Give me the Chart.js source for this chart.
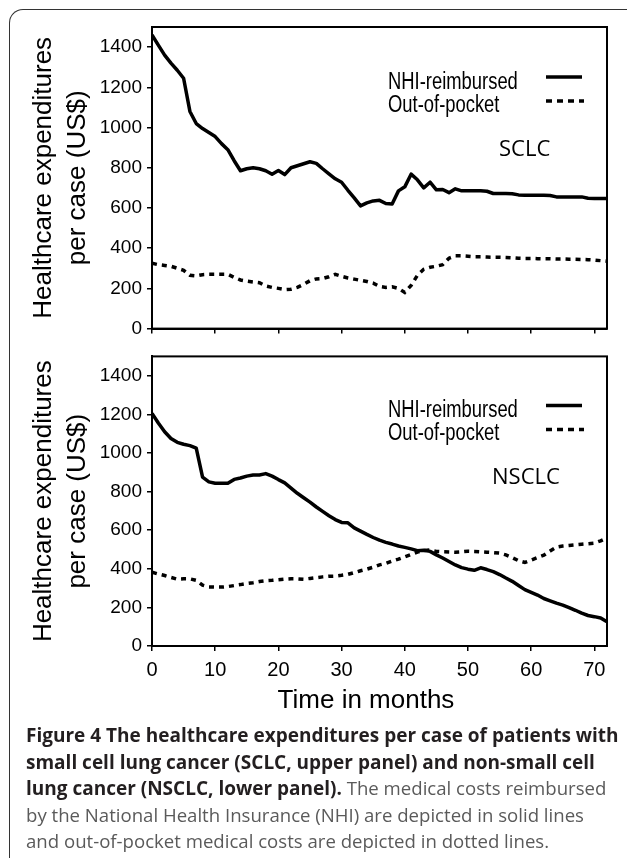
<!DOCTYPE html>
<html><head><meta charset="utf-8">
<script src="https://cdn.jsdelivr.net/npm/chart.js@4.4.1/dist/chart.umd.min.js"></script>
<style>
html,body{margin:0;padding:0;background:#fff;width:627px;height:858px;overflow:hidden;}
#frame{position:absolute;left:9px;top:9px;width:700px;height:900px;border-left:1.5px solid #333;border-top:1.5px solid #333;border-top-left-radius:14px;box-sizing:border-box;}
canvas{position:absolute;left:0;}
#cTop{top:0}
#cBot{top:340px}
#xtitle{position:absolute;left:216px;width:300px;top:686px;text-align:center;font:26px/26px "Liberation Sans",Arial,sans-serif;color:#000;}
#caption{position:absolute;left:26px;top:722px;font-family:"Open Sans",sans-serif;font-size:18.6px;line-height:26.5px;white-space:nowrap;color:#5a5a5a}
#caption b{color:#231f20;font-weight:700;font-size:19px}
</style></head>
<body>
<div id="frame"></div>
<canvas id="cTop" width="627" height="345"></canvas>
<canvas id="cBot" width="627" height="380"></canvas>
<div id="xtitle">Time in months</div>
<div id="caption"><b>Figure 4 The healthcare expenditures per case of patients with<br>small cell lung cancer (SCLC, upper panel) and non-small cell<br>lung cancer (NSCLC, lower panel).</b> The medical costs reimbursed<br>by the National Health Insurance (NHI) are depicted in solid lines<br>and out-of-pocket medical costs are depicted in dotted lines.</div>
<script>
const months = [0,1,2,3,4,5,6,7,8,9,10,11,12,13,14,15,16,17,18,19,20,21,22,23,24,25,26,27,28,29,30,31,32,33,34,35,36,37,38,39,40,41,42,43,44,45,46,47,48,49,50,51,52,53,54,55,56,57,58,59,60,61,62,63,64,65,66,67,68,69,70,71,72];
const seriesNames = ['NHI-reimbursed', 'Out-of-pocket'];
const panelNames = ['SCLC', 'NSCLC'];
const yTitle = ['Healthcare expenditures', 'per case (US$)'];
const xTicks = [0,10,20,30,40,50,60,70];
const yTicks = [0,200,400,600,800,1000,1200,1400];

const sclcNHI = [1460,1410,1360,1320,1285,1245,1080,1020,995,975,
  955,920,890,835,785,795,800,795,785,768,
  786,766,800,810,820,830,822,795,770,745,
  728,688,650,610,625,635,638,622,620,685,
  705,768,740,700,728,690,692,676,695,685,
  685,685,685,683,672,672,672,671,665,663,
  663,663,663,662,655,655,655,655,655,648,
  647,647,647];
const sclcOOP = [325,318,314,310,300,290,265,262,268,270,
  270,270,270,255,242,236,232,228,212,205,
  200,194,196,205,220,238,247,249,258,270,
  260,252,246,240,234,226,210,205,208,200,
  180,215,265,295,305,310,318,350,362,362,
  360,357,357,356,355,355,354,352,350,349,
  349,348,347,347,346,346,345,345,344,343,
  341,338,335];
const nsclcNHI = [1205,1155,1110,1075,1055,1045,1038,1025,875,850,
  843,843,843,863,870,880,886,886,893,880,
  862,845,818,791,768,745,720,697,675,655,
  640,638,612,595,578,562,548,537,528,518,
  511,503,494,496,490,472,456,438,420,406,
  398,392,405,396,385,370,352,335,313,292,
  278,264,246,234,222,212,199,185,170,158,
  152,145,125];
const nsclcOOP = [382,373,365,355,346,348,348,340,315,306,
  305,305,308,313,318,324,328,334,338,340,
  343,346,348,348,346,350,354,358,361,362,
  366,371,380,390,398,408,420,428,440,450,
  462,474,486,495,497,490,488,487,486,488,
  491,490,488,486,484,481,472,458,442,433,
  445,458,470,492,512,518,521,524,527,530,
  533,545,560];

function fontAvailable(name) {
  const c = document.createElement('canvas').getContext('2d');
  const s = 'NHI-reimbursed 0123456789';
  c.font = '40px monospace'; const w1 = c.measureText(s).width;
  c.font = '40px "' + name + '", monospace'; const w2 = c.measureText(s).width;
  return Math.abs(w1 - w2) > 0.5;
}
const narrowOK = fontAvailable('Liberation Sans Narrow');
const NARROW = narrowOK ? '"Liberation Sans Narrow"' : '"Liberation Sans"';
const yTickSize = narrowOK ? 21 : 19;
const xTickSize = narrowOK ? 22 : 20;

const panelLabels = {
  id: 'panelLabels',
  afterDatasetsDraw(chart, args, o) {
    const {ctx, chartArea: a} = chart;
    ctx.save();
    ctx.setLineDash([]);
    ctx.strokeStyle = '#000';
    ctx.lineWidth = 2;
    ctx.strokeRect(a.left, a.top, a.right - a.left, a.bottom - a.top);
    ctx.fillStyle = '#000';
    ctx.font = (narrowOK ? '22px ' : '23px ') + NARROW;
    ctx.textBaseline = 'alphabetic';
    ctx.textAlign = 'left';
    const drawT = (t, x, y) => {
      ctx.save(); ctx.translate(x, y); ctx.scale(narrowOK ? 1 : 0.8, 1); ctx.fillText(t, 0, 0); ctx.restore();
    };
    drawT(seriesNames[0], 388, a.top + o.dy + 62);
    drawT(seriesNames[1], 388, a.top + o.dy + 85);
    ctx.lineWidth = 3.5;
    ctx.beginPath(); ctx.moveTo(546, a.top + o.dy + 50); ctx.lineTo(582, a.top + o.dy + 50); ctx.stroke();
    ctx.setLineDash([6, 5]);
    ctx.beginPath(); ctx.moveTo(546, a.top + o.dy + 74); ctx.lineTo(584, a.top + o.dy + 74); ctx.stroke();
    ctx.setLineDash([]);
    ctx.font = '22px "Open Sans"';
    ctx.fillText(o.name, o.nameX, a.top + o.dy + 129);
    ctx.restore();
  }
};

function makeChart(id, nhi, oop, name, cfg) {
  const tickGrid = {drawOnChartArea: false, drawTicks: true, tickLength: 5, color: '#000', lineWidth: 1.5};
  return new Chart(document.getElementById(id), {
    type: 'line',
    data: {
      datasets: [
        {label: seriesNames[0], data: months.map((m, i) => ({x: m, y: nhi[i]})), borderColor: '#000', borderWidth: 3.5, pointRadius: 0, tension: 0, fill: false, borderJoinStyle: 'round'},
        {label: seriesNames[1], data: months.map((m, i) => ({x: m, y: oop[i]})), borderColor: '#000', borderWidth: 3.5, borderDash: [5, 5], pointRadius: 0, tension: 0, fill: false}
      ]
    },
    options: {
      responsive: false, animation: false, devicePixelRatio: 1,
      layout: {padding: {left: 0, right: 20, top: cfg.top, bottom: 0}},
      plugins: {legend: {display: false}, tooltip: {enabled: false}, panelLabels: {name: name, nameX: cfg.nameX, dy: cfg.dy}},
      scales: {
        x: {
          type: 'linear', min: 0, max: 72,
          afterBuildTicks: s => { s.ticks = xTicks.map(v => ({value: v})); },
          afterFit: s => { s.height = cfg.xh; },
          grid: tickGrid,
          border: {display: true, color: '#000', width: 2},
          ticks: {color: '#000', font: {family: NARROW, size: xTickSize}, padding: 7, maxRotation: 0, autoSkip: false,
                  callback: v => cfg.xLabels ? String(v) : ''}
        },
        y: {
          type: 'linear', min: 0, max: 1500,
          afterBuildTicks: s => { s.ticks = yTicks.map(v => ({value: v})); },
          afterFit: s => { s.width = 152; },
          grid: tickGrid,
          border: {display: true, color: '#000', width: 2},
          ticks: {color: '#000', font: {family: NARROW, size: yTickSize}, padding: 5, callback: v => String(v)},
          title: {display: true, text: yTitle, color: '#000', font: {family: '"Liberation Sans"', size: 26, lineHeight: 1.3}, padding: {top: 27, bottom: 0}}
        }
      }
    },
    plugins: [panelLabels]
  });
}

makeChart('cTop', sclcNHI, sclcOOP, panelNames[0], {top: 27, xh: 12, xLabels: false, nameX: 499, dy: 0});
makeChart('cBot', nsclcNHI, nsclcOOP, panelNames[1], {top: 4, xh: 74, xLabels: true, nameX: 492, dy: -1});
</script>
</body></html>
